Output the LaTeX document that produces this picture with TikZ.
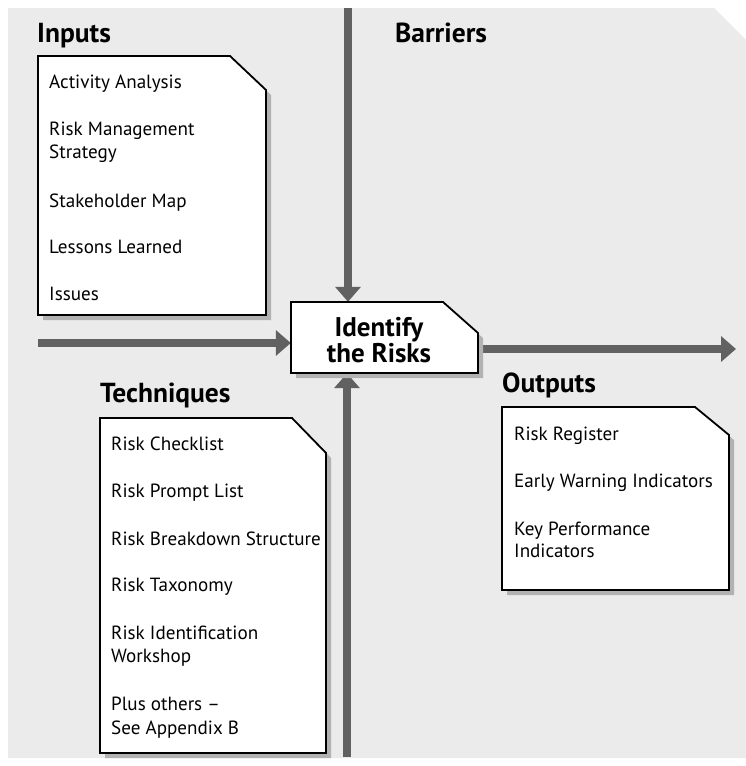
\documentclass[tikz,border=0pt]{standalone}
\usepackage{fontspec}
\setmainfont{PT Sans}
\usetikzlibrary{arrows.meta,calc,fit}
\newcommand{\mydocbox}[7]{%
  \fill[boxshade] (#2+5,#3+5) -- (#4+5-#6,#3+5) -- (#4+5,#3+5+#7) -- (#4+5,#5+5) -- (#2+5,#5+5) -- cycle;
  \draw[docbox] (#2,#3) -- (#4-#6,#3) -- (#4,#3+#7) -- (#4,#5) -- (#2,#5) -- cycle;
  \node[fit={(#2,#3) (#4,#5)}, inner sep=0pt] (#1) {};
}
\begin{document}
\begin{tikzpicture}[x=1pt,y=-1pt,
  item/.style={anchor=base west, inner sep=0pt, font=\fontsize{19.1}{22}\selectfont},
  heading/.style={anchor=base west, inner sep=0pt, font=\fontsize{27.5}{30}\selectfont\bfseries},
  centretext/.style={anchor=center, inner sep=0pt, align=center, font=\fontsize{27}{23.5}\selectfont\bfseries},
  docbox/.style={draw=black, line width=1.8pt, fill=white, line join=miter},
  boxshade/.style={fill=black!30, draw=none},
  flow/.style={draw=black!62, line width=8.5pt, -{Triangle[width=25pt,length=15pt]}}
]
\useasboundingbox (0,0) rectangle (746,766);
% background
\fill[black!8] (8,8) -- (714,8) -- (746,40) -- (746,758) -- (8,758) -- cycle;

% invisible frame of the central box (for connectors)
\node[fit={(291,302) (478,373)}, inner sep=0pt] (id) {};

% connectors
\coordinate (btop) at (348,8);
\coordinate (bbot) at (347,757);
\coordinate (lin) at (38,343);
\coordinate (rout) at (736,349);
\draw[flow] (btop) -- (btop |- id.north);
\draw[flow] (bbot) -- (bbot |- id.south);
\draw[flow] (lin) -- (lin -| id.west);
\draw[flow] (id.east |- rout) -- (rout);

% boxes
\mydocbox{inbox}{38}{56}{266}{315}{36}{34}
\mydocbox{techbox}{100}{418}{326}{753}{34}{35}
\mydocbox{outbox}{502}{407}{729}{590}{34}{28}
\mydocbox{idbox}{291}{302}{478}{373}{35}{31}

% headings
\node[heading] (hin) at (37,42) {Inputs};
\node[heading] (hbar) at (395,42) {Barriers};
\node[heading] (htech) at (100,402) {Techniques};
\node[heading] (hout) at (502,392) {Outputs};

% centre text
\node[centretext] (idtext) at (379,340) {Identify\\the Risks};

% inputs
\node[item] (i1) at (49,88) {Activity Analysis};
\node[item] (i2a) at (49,135) {Risk Management};
\node[item] (i2b) at (49,158) {Strategy};
\node[item] (i3) at (49,207) {Stakeholder Map};
\node[item] (i4) at (49,253) {Lessons Learned};
\node[item] (i5) at (49,300) {Issues};

% techniques
\node[item] (t1) at (111,450) {Risk Checklist};
\node[item] (t2) at (111,497) {Risk Prompt List};
\node[item] (t3) at (111,545) {Risk Breakdown Structure};
\node[item] (t4) at (111,591) {Risk Taxonomy};
\node[item] (t5a) at (111,639) {Risk Identification};
\node[item] (t5b) at (111,662) {Workshop};
\node[item] (t6a) at (111,710) {Plus others –};
\node[item] (t6b) at (111,734) {See Appendix B};

% outputs
\node[item] (o1) at (514,440) {Risk Register};
\node[item] (o2) at (514,487) {Early Warning Indicators};
\node[item] (o3a) at (514,535) {Key Performance};
\node[item] (o3b) at (514,557) {Indicators};
\end{tikzpicture}
\end{document}
